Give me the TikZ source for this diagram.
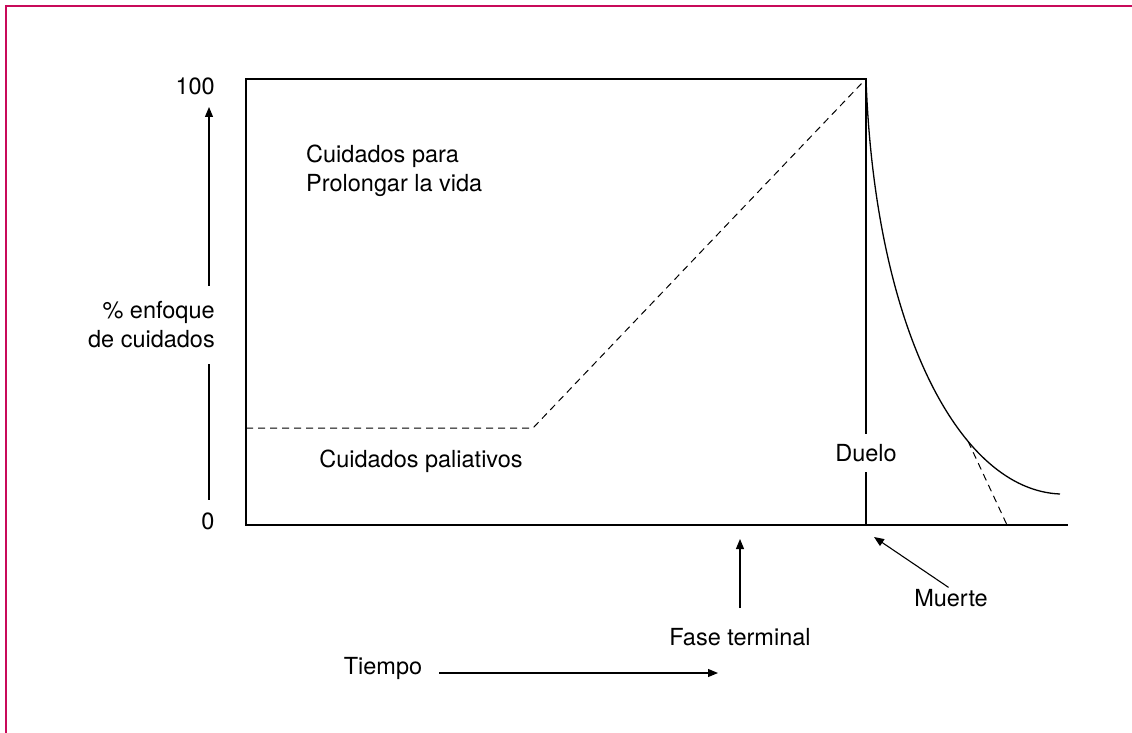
\documentclass[tikz,border=0pt]{standalone}
\usepackage{fontspec}
\setmainfont{TeX Gyre Heros}
\usetikzlibrary{arrows.meta}
\definecolor{framered}{RGB}{200,10,90}
\begin{document}
\begin{tikzpicture}[x=1pt,y=-1pt,
  axisline/.style={line width=1.3pt},
  guide/.style={line width=1pt, dash pattern=on 7pt off 5pt},
  pointer/.style={line width=1.1pt, -{Triangle[length=10pt,width=8pt]}},
  txt/.style={font=\fontsize{23.5}{29}\selectfont, inner sep=0pt, align=center}]
\useasboundingbox (0,0) rectangle (1132,733);
% frame
\draw[framered, line width=1.6pt] (1132,6) -- (6,6) -- (6,733);
% corners of the chart
\coordinate (origin) at (246,525);
\coordinate (ytop) at (246,79);
\coordinate (peak) at (866,79);
\coordinate (deathpt) at (866,525);
\coordinate (xend) at (1068,525);
\coordinate (griefend) at (1060,494);
\node[txt, inner ysep=10.5pt, fill=white] (grief) at (866,453) {Duelo};
\draw[axisline] (deathpt) -- (origin) -- (ytop) -- (peak) -- (grief);
\draw[axisline] (grief) -- (deathpt) -- (xend);
\draw[axisline] (peak) .. controls (875,330) and (960,490) .. (griefend)
  coordinate[pos=0.67] (split);
% dashed split of care
\coordinate (palstart) at (246,428);
\coordinate (palknee) at (533,428);
\coordinate (palpeak) at (862,83);
\coordinate (griefzero) at (1007,525);
\draw[guide] (palstart) -- (palknee) -- (palpeak);
\draw[guide] (split) -- (griefzero);
% labels
\node[txt, anchor=east] (hundred) at (215,86) {100};
\node[txt] (zero) at (208,521) {0};
\node[txt, align=right, anchor=east] (focus) at (215,325) {\% enfoque\\de cuidados};
\coordinate (axtip) at (209,107);
\coordinate (axfoot) at (209,500);
\draw[pointer, shorten <=16pt] (focus.north -| axtip) -- (axtip);
\draw[line width=1.1pt, shorten <=16pt] (focus.south -| axfoot) -- (axfoot);
\node[txt, align=left, anchor=north west] (prolong) at (306,145) {Cuidados para\\Prolongar la vida};
\node[txt] (palliative) at (421,461) {Cuidados paliativos};
\node[txt] (phase) at (740,637) {Fase terminal};
\coordinate (phasetip) at (740,539);
\draw[pointer, shorten <=20pt] (phase) -- (phasetip);
\node[txt] (death) at (951,598) {Muerte};
\coordinate (deathtip) at (874,537);
\draw[pointer, shorten <=3pt] (death.north) -- (deathtip);
\node[txt] (time) at (383,668) {Tiempo};
\coordinate (timetip) at (718,673);
\draw[pointer, shorten <=17pt] (time.east |- timetip) -- (timetip);
\end{tikzpicture}
\end{document}
